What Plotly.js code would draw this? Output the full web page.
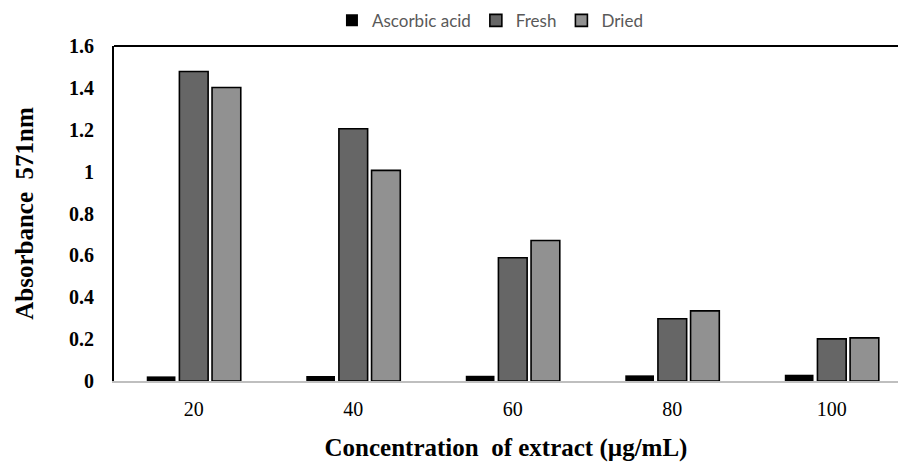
<!DOCTYPE html>
<html>
<head>
<meta charset="utf-8">
<script src="https://cdn.plot.ly/plotly-3.0.1.min.js"></script>
<style>html,body{margin:0;padding:0;background:#fff;}#chart{width:899px;height:462px;}</style>
</head>
<body>
<div id="chart"></div>
<script>
const categories = ["20", "40", "60", "80", "100"];
const seriesNames = ["Ascorbic acid", "Fresh", "Dried"];
const ascorbicAcid = [0.022, 0.024, 0.025, 0.027, 0.030];
const fresh = [1.478, 1.205, 0.589, 0.297, 0.201];
const dried = [1.402, 1.006, 0.671, 0.335, 0.206];
const yTickVals = [0, 0.2, 0.4, 0.6, 0.8, 1, 1.2, 1.4, 1.6];
const yTickText = ["0", "0.2", "0.4", "0.6", "0.8", "1", "1.2", "1.4", "1.6"];

const fills = ["#000000", "#666666", "#919191"];
const values = [ascorbicAcid, fresh, dried];
const SERIF = "Liberation Serif, Times New Roman, serif";

const traces = values.map((v, i) => ({
  type: "bar",
  name: seriesNames[i],
  x: categories,
  y: v,
  marker: {color: fills[i], line: {color: "#000000", width: i === 0 ? 0 : 1.6}},
  hoverinfo: "skip"
}));

const layout = {
  width: 899, height: 462,
  font: {family: SERIF, color: "#000000"},
  margin: {l: 114, r: 1, t: 46, b: 81, pad: 0},
  paper_bgcolor: "#ffffff", plot_bgcolor: "#ffffff",
  barmode: "group",
  bargap: 0.386,
  bargroupgap: 0.12,
  showlegend: true,
  legend: {
    orientation: "h", xref: "container", yref: "container",
    x: 0.545, xanchor: "center", y: 0.955, yanchor: "middle",
    font: {family: "Lato, sans-serif", size: 17, color: "#595959"},
    itemwidth: 30, tracegroupgap: 0, traceorder: "normal"
  },
  xaxis: {
    type: "category", categoryorder: "array", categoryarray: categories,
    range: [-0.5, 4.415],
    showline: true, linecolor: "#bfbfbf", linewidth: 1.5,
    showgrid: false, zeroline: false, ticks: "",
    tickfont: {family: SERIF, size: 20, color: "#000000"},
    ticklabelstandoff: 9,
    title: {text: "Concentration  of extract (µg/mL)", standoff: 23,
      font: {family: SERIF, size: 25, color: "#000000", weight: "bold"}}
  },
  yaxis: {
    range: [0, 1.6], tickvals: yTickVals, ticktext: yTickText,
    showline: true, linecolor: "#000000", linewidth: 2,
    showgrid: false, zeroline: false, ticks: "",
    tickfont: {family: SERIF, size: 20, color: "#000000", weight: "bold"},
    ticklabelstandoff: 14,
    title: {text: "Absorbance  571nm", standoff: 28,
      font: {family: SERIF, size: 25, color: "#000000", weight: "bold"}}
  },
  shapes: [{type: "line", xref: "paper", yref: "paper", x0: 0, x1: 1, y0: 1, y1: 1,
    line: {color: "#000000", width: 2}}]
};

Plotly.newPlot("chart", traces, layout, {displayModeBar: false, staticPlot: true});
</script>
</body>
</html>
